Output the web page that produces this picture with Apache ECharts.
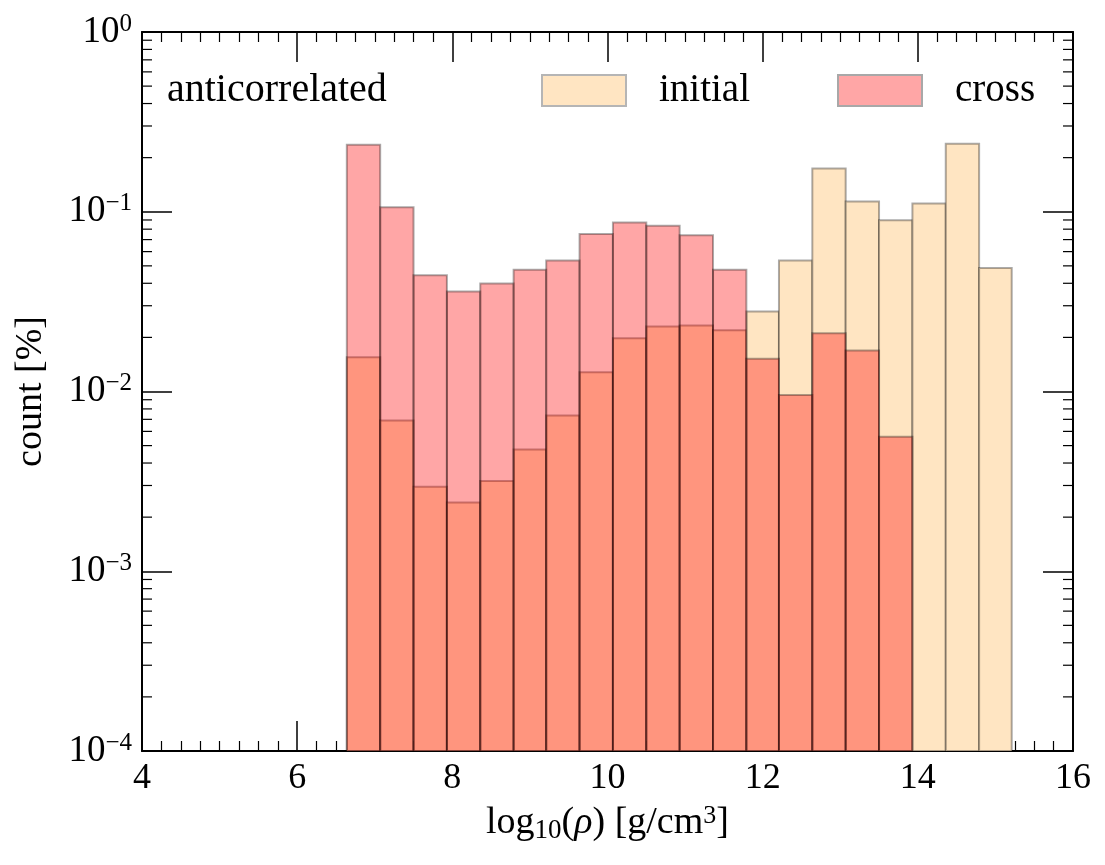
<!DOCTYPE html>
<html><head><meta charset="utf-8">
<script src="https://cdn.jsdelivr.net/npm/echarts@6/dist/echarts.min.js"></script>
<style>html,body{margin:0;padding:0;background:#fff}#c{width:1105px;height:865px}</style>
</head><body><div id="c"></div>
<script>
// ---- data ----
const binEdges = [6.64, 7.07, 7.50, 7.93, 8.36, 8.79, 9.21, 9.64, 10.07, 10.50, 10.93,
                  11.36, 11.79, 12.21, 12.64, 13.07, 13.50, 13.93, 14.36, 14.79, 15.21];
const initialCounts = [0.0155, 0.0069, 0.00295, 0.00241, 0.00318, 0.00475, 0.00735, 0.0128,
                       0.0198, 0.0230, 0.0233, 0.0219, 0.0279, 0.0536, 0.174, 0.114,
                       0.0896, 0.111, 0.239, 0.0486];
const crossCounts = [0.236, 0.106, 0.0443, 0.0360, 0.0399, 0.0476, 0.0536, 0.0752,
                     0.0870, 0.0837, 0.0739, 0.0476, 0.0152, 0.00955, 0.0211, 0.0169,
                     0.0056, 0, 0, 0];
const seriesNames = ['initial', 'cross'];
const xTickLabels = ['4', '6', '8', '10', '12', '14', '16'];
const yMin = 1e-4, yMax = 1;
const annotation = 'anticorrelated';

const FONT = '"Liberation Serif", "DejaVu Serif", serif';
const initialFill = '#FFE5C2';
const crossFill = 'rgba(255,0,0,0.35)';
const edge = 'rgba(0,0,0,0.33)';

function histData(counts) {
  const out = [];
  counts.forEach((c, i) => { if (c > 0) out.push([binEdges[i], binEdges[i + 1], c]); });
  return out;
}
// minor tick positions on the log axis (2..9 x each decade)
const minorVals = [];
for (let e = -4; e < 0; e++) for (let d = 2; d <= 9; d++) minorVals.push([4, d * Math.pow(10, e)]);

function barRender(fill) {
  return function (params, api) {
    const a = api.coord([api.value(0), api.value(2)]);
    const b = api.coord([api.value(1), yMin]);
    return {
      type: 'rect',
      shape: { x: a[0], y: a[1], width: b[0] - a[0], height: b[1] - a[1] },
      style: { fill: fill, stroke: edge, lineWidth: 2 }
    };
  };
}

function yLabel(v) {
  const e = Math.round(Math.log10(v));
  const s = e === 0 ? '0' : '\u2212' + (-e);
  return '{b|10}{s|' + s + '}';
}

const chart = echarts.init(document.getElementById('c'), null, { renderer: 'canvas' });
const axisCommon = {
  axisLine: { onZero: false, lineStyle: { color: '#000', width: 2 } },
  splitLine: { show: false }
};
chart.setOption({
  animation: false,
  backgroundColor: '#fff',
  textStyle: { fontFamily: FONT, color: '#000' },
  grid: { left: 142, right: 32, top: 32, bottom: 114, containLabel: false },
  title: {
    text: annotation, left: 167, top: 70, padding: 0,
    textStyle: { fontFamily: FONT, fontSize: 40, fontWeight: 'normal', color: '#000' }
  },
  legend: [
    {
      data: [{ name: seriesNames[0], icon: 'rect', itemStyle: { color: initialFill, borderColor: '#b5b5b5', borderWidth: 2 } }],
      left: 541, top: 71, padding: 0, itemWidth: 84, itemHeight: 31,
      textStyle: { fontFamily: FONT, fontSize: 39, color: '#000', padding: [0, 0, 0, 28] },
      selectedMode: false
    },
    {
      data: [{ name: seriesNames[1], icon: 'rect', itemStyle: { color: '#FFA6A6', borderColor: '#a8a8a8', borderWidth: 2 } }],
      left: 837, top: 71, padding: 0, itemWidth: 84, itemHeight: 31,
      textStyle: { fontFamily: FONT, fontSize: 39, color: '#000', padding: [0, 0, 0, 28] },
      selectedMode: false
    }
  ],
  xAxis: [
    Object.assign({}, axisCommon, {
      type: 'value', min: 4, max: 16, interval: 2, position: 'bottom',
      axisTick: { inside: true, length: 30, lineStyle: { color: '#000', width: 1.5 } },
      minorTick: { show: true, splitNumber: 8, length: 10, lineStyle: { color: '#000', width: 1.2 } },
      axisLabel: {
        margin: 10, fontFamily: FONT, fontSize: 36, color: '#000',
        formatter: v => xTickLabels[Math.round((v - 4) / 2)]
      },
      name: '{n|log}{sub|10}{n|(}{i|ρ}{n|) [g/cm}{sup|3}{n|]}',
      nameLocation: 'middle', nameGap: 52,
      nameTextStyle: {
        fontFamily: FONT, color: '#000',
        rich: {
          n: { fontFamily: FONT, fontSize: 38, color: '#000' },
          i: { fontFamily: FONT, fontSize: 38, fontStyle: 'italic', color: '#000' },
          sub: { fontFamily: FONT, fontSize: 27, color: '#000', verticalAlign: 'bottom', padding: [14, 0, 0, 0] },
          sup: { fontFamily: FONT, fontSize: 26, color: '#000', verticalAlign: 'top', padding: [0, 0, 12, 0] }
        }
      }
    }),
    Object.assign({}, axisCommon, {
      type: 'value', min: 4, max: 16, interval: 2, position: 'top',
      axisTick: { inside: true, length: 30, lineStyle: { color: '#000', width: 1.5 } },
      minorTick: { show: true, splitNumber: 8, length: 10, lineStyle: { color: '#000', width: 1.2 } },
      axisLabel: { show: false }
    })
  ],
  yAxis: [
    Object.assign({}, axisCommon, {
      type: 'log', logBase: 10, min: yMin, max: yMax, splitNumber: 4, position: 'left',
      axisTick: { inside: true, length: 30, lineStyle: { color: '#000', width: 1.5 } },
      axisLabel: {
        margin: 10, formatter: yLabel,
        rich: {
          b: { fontFamily: FONT, fontSize: 37, color: '#000', lineHeight: 40 },
          s: { fontFamily: FONT, fontSize: 25, color: '#000', verticalAlign: 'top', padding: [0, 0, 16, 0] }
        }
      },
      name: 'count [%]', nameLocation: 'middle', nameGap: 92, nameRotate: 90,
      nameTextStyle: { fontFamily: FONT, fontSize: 38, color: '#000' }
    }),
    Object.assign({}, axisCommon, {
      type: 'log', logBase: 10, min: yMin, max: yMax, splitNumber: 4, position: 'right',
      axisTick: { inside: true, length: 30, lineStyle: { color: '#000', width: 1.5 } },
      axisLabel: { show: false }
    })
  ],
  series: [
    {
      name: seriesNames[0], type: 'custom', xAxisIndex: 0, yAxisIndex: 0,
      itemStyle: { color: initialFill }, encode: { x: [0, 1], y: 2 },
      renderItem: barRender(initialFill), data: histData(initialCounts), z: 2
    },
    {
      name: seriesNames[1], type: 'custom', xAxisIndex: 0, yAxisIndex: 0,
      itemStyle: { color: '#FFA6A6' }, encode: { x: [0, 1], y: 2 },
      renderItem: barRender(crossFill), data: histData(crossCounts), z: 3
    },
    {
      name: 'minorTicks', type: 'custom', xAxisIndex: 0, yAxisIndex: 0, silent: true, z: 5,
      encode: { x: 0, y: 1 }, data: minorVals,
      renderItem: function (params, api) {
        const l = api.coord([4, api.value(1)]);
        const r = api.coord([16, api.value(1)]);
        return {
          type: 'group', children: [
            { type: 'line', shape: { x1: l[0], y1: l[1], x2: l[0] + 10, y2: l[1] }, style: { stroke: '#000', lineWidth: 1.2 } },
            { type: 'line', shape: { x1: r[0] - 10, y1: r[1], x2: r[0], y2: r[1] }, style: { stroke: '#000', lineWidth: 1.2 } }
          ]
        };
      }
    }
  ]
});
</script></body></html>
